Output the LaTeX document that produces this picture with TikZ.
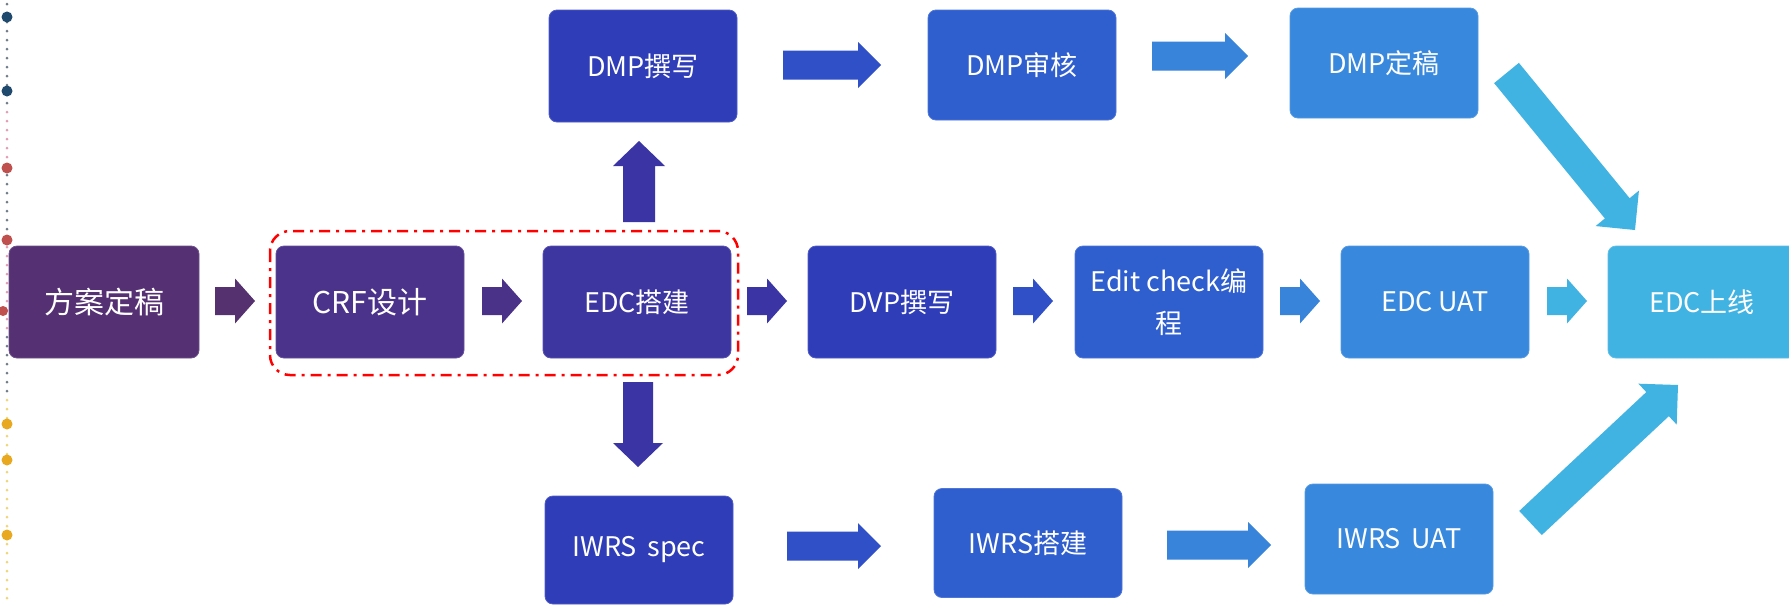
\documentclass[tikz,border=0pt]{standalone}
\usepackage{fontspec}
\setmainfont{Noto Sans CJK SC}
\usetikzlibrary{calc}
\definecolor{cA}{HTML}{553174}
\definecolor{cB}{HTML}{4B328A}
\definecolor{cC}{HTML}{3D35A0}
\definecolor{cD}{HTML}{2F3EB8}
\definecolor{cE}{HTML}{2F5ECF}
\definecolor{cF}{HTML}{3888DD}
\definecolor{cG}{HTML}{41B3E3}
\definecolor{arA}{HTML}{56316F}
\definecolor{arB}{HTML}{4B3289}
\definecolor{arC}{HTML}{3A34A4}
\definecolor{arD}{HTML}{3050C8}
\definecolor{arE}{HTML}{3784DA}
\definecolor{tlnavy}{HTML}{1F4A6E}
\definecolor{tlred}{HTML}{C0504D}
\definecolor{tlyel}{HTML}{E8A820}
\definecolor{tlgray}{HTML}{707C88}
\definecolor{tlpink}{HTML}{E0A0B2}
\definecolor{tlly}{HTML}{EED77A}
\newcommand\myarrow[6]{%
  \coordinate (ab) at ($(#3)!#6!(#2)$);
  \fill[#1] ($(#2)!#4!90:(#3)$) -- ($(ab)!#4!-90:(#2)$) -- ($(ab)!#5!-90:(#2)$) -- (#3)
    -- ($(ab)!#5!90:(#2)$) -- ($(ab)!#4!90:(#2)$) -- ($(#2)!#4!-90:(#3)$) -- cycle;}
\tikzset{
  box/.style={rounded corners=8pt, minimum width=188pt, minimum height=112pt, inner sep=0pt,
    text=white, font=\fontsize{27}{42}\selectfont, line width=0.8pt, align=center},
  bigtxt/.style={font=\fontsize{30}{36}\selectfont},
  groupline/.style={draw=red, line width=2.5pt, rounded corners=20pt,
    dash pattern=on 11pt off 6pt on 3pt off 6pt}
}
\begin{document}
\begin{tikzpicture}[x=1pt,y=-1pt]
\useasboundingbox (0,0) rectangle (1789,606);
\clip (0,0) rectangle (1789,606);
\fill[white] (0,0) rectangle (1789,606);

% left timeline
\foreach \y in {4,13,...,103} \fill[tlgray] (7,\y) circle (1.5pt);
\foreach \y in {112,121,...,157} \fill[tlpink] (7,\y) circle (1.5pt);
\foreach \y in {175,184,...,229} \fill[tlgray] (7,\y) circle (1.5pt);
\foreach \y in {247,256,...,328} \fill[tlpink] (7,\y) circle (1.5pt);
\foreach \y in {337,346,...,391} \fill[tlgray] (7,\y) circle (1.5pt);
\foreach \y in {400,409,...,604} \fill[tlly] (7,\y) circle (1.5pt);
\foreach \y in {17,91} \fill[tlnavy] (7,\y) circle (5.5pt);
\foreach \y in {168,240} \fill[tlred] (7,\y) circle (5.5pt);
\fill[tlred] (3,311) circle (5pt);
\foreach \y in {424,460,535} \fill[tlyel] (7,\y) circle (5.5pt);

% middle row
\node[box, bigtxt, fill=cA, draw=cA!85!white, minimum width=190pt] (fa) at (104,302) {方案定稿};
\node[box, bigtxt, fill=cB, draw=cB!85!white] (crf) at (370,302) {CRF设计};
\node[box, fill=cC, draw=cC!85!white] (edc) at (637,302) {EDC搭建};
\node[box, fill=cD, draw=cD!85!white] (dvp) at (902,302) {DVP撰写};
\node[box, fill=cE, draw=cE!85!white] (ec) at (1169,302) {Edit check编\\程};
\node[box, fill=cF, draw=cF!85!white] (uat) at (1435,302) {EDC UAT};
\node[box, fill=cG, draw=cG!85!white] (live) at (1702,302) {EDC上线};

% top row
\node[box, fill=cD, draw=cD!85!white] (dmpw) at (643,66) {DMP撰写};
\node[box, fill=cE, draw=cE!85!white, minimum height=110pt] (dmpr) at (1022,65) {DMP审核};
\node[box, fill=cF, draw=cF!85!white, minimum height=110pt] (dmpf) at (1384,63) {DMP定稿};

% bottom row
\node[box, fill=cD, draw=cD!85!white, minimum height=108pt] (iws) at (639,550) {IWRS\, spec};
\node[box, fill=cE, draw=cE!85!white, minimum height=109pt] (iwb) at (1028,543) {IWRS搭建};
\node[box, fill=cF, draw=cF!85!white, minimum height=110pt] (iwu) at (1399,539) {IWRS\, UAT};

% dash-dot group frame
\coordinate (gtl) at (270,231);
\coordinate (gbr) at (738,375);
\draw[groupline] (gtl) rectangle (gbr);

% arrow end points
\coordinate (a1s) at (215,301);  \coordinate (a1e) at (255,301);
\coordinate (a2s) at (482,301);  \coordinate (a2e) at (522,301);
\coordinate (a3s) at (747,301);  \coordinate (a3e) at (787,301);
\coordinate (a4s) at (1013,301); \coordinate (a4e) at (1053,301);
\coordinate (a5s) at (1280,301); \coordinate (a5e) at (1320,301);
\coordinate (a6s) at (1547,301); \coordinate (a6e) at (1587,301);
\coordinate (a7s) at (783,65);   \coordinate (a7e) at (881,65);
\coordinate (a8s) at (1152,56);  \coordinate (a8e) at (1248,56);
\coordinate (a9s) at (787,546);  \coordinate (a9e) at (881,546);
\coordinate (a10s) at (1167,545); \coordinate (a10e) at (1271,545);
\coordinate (ups) at (639,222);  \coordinate (upe) at (639,141);
\coordinate (dns) at (638,382);  \coordinate (dne) at (638,467);
\coordinate (d1s) at (1506.5,73); \coordinate (d1e) at (1635,230);
\coordinate (d2s) at (1530.5,523); \coordinate (d2e) at (1678,385);

\myarrow{arA}{a1s}{a1e}{14pt}{22.5pt}{20pt}
\myarrow{arB}{a2s}{a2e}{14pt}{22.5pt}{20pt}
\myarrow{arC}{a3s}{a3e}{14pt}{22.5pt}{20pt}
\myarrow{arD}{a4s}{a4e}{14pt}{22.5pt}{20pt}
\myarrow{arE}{a5s}{a5e}{14pt}{22.5pt}{20pt}
\myarrow{cG}{a6s}{a6e}{14pt}{22.5pt}{20pt}
\myarrow{arD}{a7s}{a7e}{14.5pt}{23pt}{23pt}
\myarrow{arE}{a8s}{a8e}{14.5pt}{23pt}{23pt}
\myarrow{arD}{a9s}{a9e}{14.5pt}{23pt}{23pt}
\myarrow{arE}{a10s}{a10e}{14.5pt}{23pt}{23pt}
\myarrow{arC}{ups}{upe}{16pt}{26pt}{25pt}
\myarrow{arC}{dns}{dne}{15pt}{25pt}{24pt}
\myarrow{cG}{d1s}{d1e}{16pt}{28pt}{28pt}
\myarrow{cG}{d2s}{d2e}{16.5pt}{28pt}{28pt}
\end{tikzpicture}
\end{document}
